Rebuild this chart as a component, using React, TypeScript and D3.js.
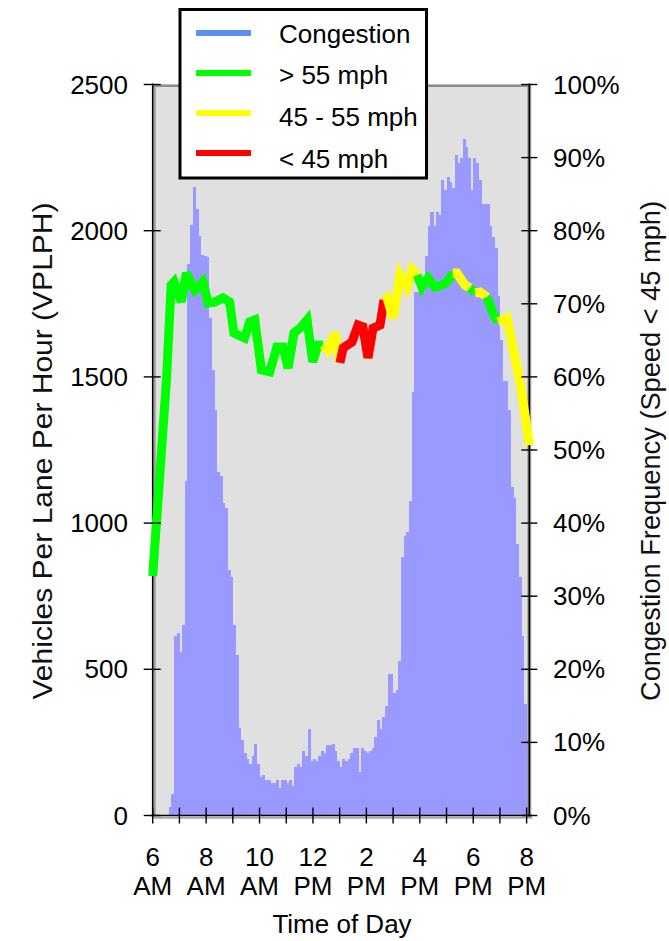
import React from "react"
import * as d3 from "d3"

const W = 669
const H = 941
const FONT = "Arial, 'Liberation Sans', Helvetica, sans-serif"

// congestion frequency (% of days with speed < 45 mph), 6-minute bins from 6:00 AM
const congestion = [
  // 6 AM
  0, 0, 0, 0, 0, 0, 1.1, 3.0, 24.5, 24.9,
  // 7 AM
  22.3, 26, 45.7, 75.5, 80.8, 86, 83, 79.3, 76.7, 76.6,
  // 8 AM
  76.4, 68, 61, 55.5, 47, 46.4, 42.7, 42, 33.6, 32.6,
  // 9 AM
  26, 21.9, 12, 10.3, 8.5, 7.7, 7, 8.1, 9.8, 7,
  // 10 AM
  5.2, 5.5, 4.8, 4.8, 4.4, 4.4, 4.8, 3.7, 4.8, 4.8,
  // 11 AM
  4.4, 4.8, 4.1, 6.6, 7.0, 6.6, 8.8, 8.1, 11.8, 7.4,
  // 12 PM
  7.7, 7.4, 8.1, 8.8, 8.5, 9.6, 9.6, 9.8, 8.8, 7.4,
  // 1 PM
  6.6, 7.7, 7.4, 7.7, 8.5, 9.2, 9.2, 5.9, 9.2, 8.8,
  // 2 PM
  8.5, 8.8, 9.2, 10.7, 13.1, 11.8, 13.5, 15, 19.4, 19.4,
  // 3 PM
  16.8, 17.2, 21.2, 35.4, 38.3, 38.8, 43, 58, 71.6, 71.6,
  // 4 PM
  71.6, 71.6, 76.5, 80.7, 82.6, 80.7, 82.6, 82.2, 87, 85.6,
  // 5 PM
  87.3, 86.6, 85.9, 90.3, 89.2, 89.9, 92.5, 91.4, 89.9, 85.6,
  // 6 PM
  89.9, 89.3, 87, 83.7, 83.7, 83.7, 80.7, 79.2, 77.7, 71,
  // 7 PM
  65, 59.5, 59.5, 55.5, 44.9, 43.5, 37.2, 32.6, 24.5, 15.3,
  // 8 PM
  10.3,
]

// volume line (hour of day, vehicles per lane per hour, speed class)
const volTime = [
  6.0, 6.52, 6.69, 6.8, 7.07, 7.26, 7.57, 7.88, 8.07, 8.32, 8.63, 8.88, 9.04,
  9.44, 9.63, 9.82, 10.07, 10.38, 10.65, 10.88, 11.07, 11.29, 11.52, 11.78,
  11.99, 12.19, 12.38, 12.56, 12.83, 13.01, 13.13, 13.46, 13.69, 13.87, 14.06,
  14.25, 14.51, 14.66, 14.77, 15.0, 15.26, 15.52, 15.71, 15.9, 16.08, 16.31,
  16.57, 16.83, 17.02, 17.24, 17.39, 17.69, 17.88, 18.07, 18.26, 18.52, 18.74,
  18.93, 19.27, 19.49, 19.75, 19.94, 20.1,
]
const volume = [
  819, 1496, 1814, 1825, 1756, 1855, 1797, 1825, 1753, 1756, 1770, 1756, 1650,
  1633, 1688, 1695, 1524, 1517, 1602, 1602, 1530, 1650, 1667, 1695, 1551, 1609,
  1609, 1592, 1650, 1548, 1599, 1619, 1677, 1671, 1565, 1667, 1677, 1763, 1770,
  1701, 1848, 1807, 1866, 1848, 1807, 1838, 1807, 1814, 1825, 1855, 1855, 1814,
  1804, 1787, 1790, 1773, 1718, 1688, 1701, 1599, 1482, 1370, 1267,
]
// g: > 55 mph, y: 45 - 55 mph, r: < 45 mph
const speed = [
  "g", "g", "g", "g", "g", "g", "g", "g", "g", "g", "g", "g", "g", "g", "g",
  "g", "g", "g", "g", "g", "g", "g", "g", "g", "g", "g", "g", "y", "y", "y",
  "r", "r", "r", "r", "r", "r", "r", "r", "y", "y", "y", "y", "y", "y", "g",
  "g", "g", "g", "g", "g", "y", "y", "y", "g", "y", "y", "g", "g", "y", "y",
  "y", "y", "y",
]

const speedColor: Record<string, string> = { g: "#00ff00", y: "#ffff00", r: "#ff0000" }

const legendLabels = ["Congestion", "> 55 mph", "45 - 55 mph", "< 45 mph"]
const legendColors = ["#5b8ff7", "#00ff00", "#ffff00", "#ff0000"]

const volTicks = [0, 500, 1000, 1500, 2000, 2500]
const pctTicks = [0, 10, 20, 30, 40, 50, 60, 70, 80, 90, 100]
const hourTicks = [6, 7, 8, 9, 10, 11, 12, 13, 14, 15, 16, 17, 18, 19, 20]
const labelHours = [6, 8, 10, 12, 14, 16, 18, 20]
const labelTop = ["6", "8", "10", "12", "2", "4", "6", "8"]
const labelBottom = ["AM", "AM", "AM", "PM", "PM", "PM", "PM", "PM"]

export default function App() {
  const left = 152.7
  const right = 529.3
  const top = 84.5
  const bottom = 815.5

  const x = d3.scaleLinear().domain([6, 20.1]).range([left, right])
  const yVol = d3.scaleLinear().domain([0, 2500]).range([bottom, top])
  const yPct = d3.scaleLinear().domain([0, 100]).range([bottom, top])

  const pts = volTime.map((t, i) => [x(t), yVol(volume[i])] as [number, number])
  const line = d3.line()

  // split the volume line into runs of one colour
  const runs: { color: string; pts: [number, number][] }[] = []
  for (let j = 1; j < pts.length; j++) {
    const c = speedColor[speed[j]]
    const last = runs[runs.length - 1]
    if (last && last.color === c) last.pts.push(pts[j])
    else runs.push({ color: c, pts: [pts[j - 1], pts[j]] })
  }

  return (
    <svg
      width={W}
      height={H}
      style={{ position: "absolute", left: 0, top: 0, background: "#fff" }}
      fontFamily={FONT}
    >
      {/* plot background */}
      <rect x={left} y={top} width={right - left} height={bottom - top} fill="#e0e0e0" />

      {/* congestion bars */}
      <g shapeRendering="crispEdges">
        {congestion.map((v, i) =>
          v > 0 ? (
            <rect
              key={i}
              x={x(6 + i / 10)}
              y={yPct(v)}
              width={x(6 + (i + 1) / 10) - x(6 + i / 10) + 0.4}
              height={bottom - yPct(v)}
              fill="#9999ff"
            />
          ) : null,
        )}
      </g>

      {/* frame */}
      <line x1={left} x2={right} y1={top + 1.2} y2={top + 1.2} stroke="#8a8a8a" strokeWidth={2.5} />
      <line x1={left + 2} x2={left + 2} y1={top} y2={bottom} stroke="#9a9a9a" strokeWidth={2} />
      <line x1={right} x2={right} y1={top} y2={bottom + 1} stroke="#a0a0a0" strokeWidth={4} />
      <line x1={left} x2={left} y1={top - 1} y2={bottom + 1} stroke="#000" strokeWidth={1.6} />
      <line x1={right} x2={right} y1={top - 1} y2={bottom + 1} stroke="#000" strokeWidth={1.6} />
      <line x1={left} x2={right + 3} y1={bottom + 2.2} y2={bottom + 2.2} stroke="#a8a8a8" strokeWidth={2} />
      <line x1={left - 2} x2={right + 3} y1={bottom} y2={bottom} stroke="#000" strokeWidth={1.6} />

      {/* volume line */}
      <g fill="none" strokeWidth={9} strokeLinejoin="miter" strokeMiterlimit={3} strokeLinecap="butt">
        {runs.map((r, i) => (
          <path key={i} d={line(r.pts) || ""} stroke={r.color} />
        ))}
      </g>

      {/* left axis */}
      {volTicks.map((v) => (
        <g key={v}>
          <line x1={left - 9} x2={left + 8} y1={yVol(v)} y2={yVol(v)} stroke="#000" strokeWidth={1.4} />
          <text x={128} y={yVol(v) + 9} textAnchor="end" fontSize={26}>
            {v}
          </text>
        </g>
      ))}

      {/* right axis */}
      {pctTicks.map((p) => (
        <g key={p}>
          <line x1={right - 8} x2={right + 8} y1={yPct(p)} y2={yPct(p)} stroke="#000" strokeWidth={1.4} />
          <text x={553} y={yPct(p) + 9} textAnchor="start" fontSize={26}>
            {p}%
          </text>
        </g>
      ))}

      {/* bottom axis */}
      {hourTicks.map((h) => (
        <line key={h} x1={x(h)} x2={x(h)} y1={bottom - 8} y2={bottom + 8} stroke="#000" strokeWidth={1.4} />
      ))}
      {labelHours.map((h, i) => (
        <g key={h}>
          <text x={x(h)} y={866} textAnchor="middle" fontSize={26}>
            {labelTop[i]}
          </text>
          <text x={x(h)} y={895} textAnchor="middle" fontSize={26}>
            {labelBottom[i]}
          </text>
        </g>
      ))}

      <text x={342} y={933} textAnchor="middle" fontSize={26}>
        Time of Day
      </text>

      <text
        transform="translate(52,451) rotate(-90)"
        textAnchor="middle"
        fontSize={28}
        textLength={497}
        lengthAdjust="spacingAndGlyphs"
        fill="#111"
      >
        Vehicles Per Lane Per Hour (VPLPH)
      </text>
      <text
        transform="translate(660,451) rotate(-90)"
        textAnchor="middle"
        fontSize={28}
        textLength={500}
        lengthAdjust="spacingAndGlyphs"
        fill="#111"
      >
        Congestion Frequency (Speed &lt; 45 mph)
      </text>

      {/* legend */}
      <rect x={180} y={9.5} width={246.5} height={168.5} fill="#fff" stroke="#000" strokeWidth={3} />
      {legendLabels.map((l, i) => (
        <g key={l}>
          <line x1={196} x2={251} y1={33 + i * 40} y2={33 + i * 40} stroke={legendColors[i]} strokeWidth={6} />
          <text x={279} y={42.5 + i * 41.8} fontSize={26}>
            {l}
          </text>
        </g>
      ))}
    </svg>
  )
}
